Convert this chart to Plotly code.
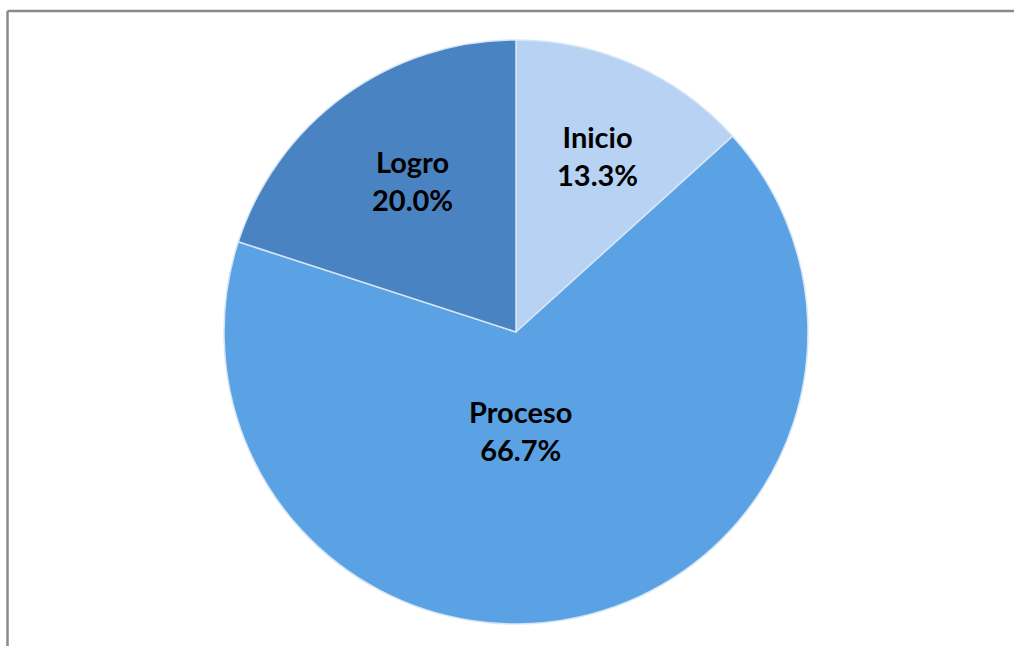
import plotly.graph_objects as go

labels = ["Inicio", "Proceso", "Logro"]
values = [13.3, 66.7, 20.0]
colors = ["#b7d2f3", "#5ba2e5", "#4a83c2"]
# label anchor points (pixels in the 1014x646 canvas)
label_px = [(597, 155), (520, 430), (412, 180)]

W, H = 1014, 646
cx, cy, r = 516, 332, 292

fig = go.Figure()
fig.add_trace(go.Pie(
    labels=labels, values=values, sort=False, direction="clockwise", rotation=0,
    marker=dict(colors=colors, line=dict(color="#d6e6f7", width=1.5)),
    textinfo="none", hoverinfo="label+percent", showlegend=False,
    domain=dict(x=[(cx - r) / W, (cx + r) / W], y=[1 - (cy + r) / H, 1 - (cy - r) / H]),
))

total = sum(values)
for lab, v, (px, py) in zip(labels, values, label_px):
    fig.add_annotation(
        x=px / W, y=1 - py / H, xref="paper", yref="paper",
        text=f"<b>{lab}<br>{v / total * 100:.1f}%</b>", showarrow=False,
        font=dict(family="Lato, Liberation Sans, sans-serif", size=29, color="#000000"),
        xanchor="center", yanchor="middle", align="center",
    )

frame = dict(color="#8a8a8a", width=2.5)
fig.add_shape(type="line", xref="paper", yref="paper",
              x0=7.5 / W, x1=1.0, y0=1 - 11 / H, y1=1 - 11 / H, line=frame)
fig.add_shape(type="line", xref="paper", yref="paper",
              x0=7.5 / W, x1=7.5 / W, y0=0.0, y1=1 - 11 / H, line=frame)

fig.update_layout(width=W, height=H, margin=dict(l=0, r=0, t=0, b=0),
                  paper_bgcolor="white", plot_bgcolor="white")
fig.write_html("out.html", config={"displayModeBar": False},
               post_script="document.body.style.margin='0';document.body.style.overflow='hidden';")
